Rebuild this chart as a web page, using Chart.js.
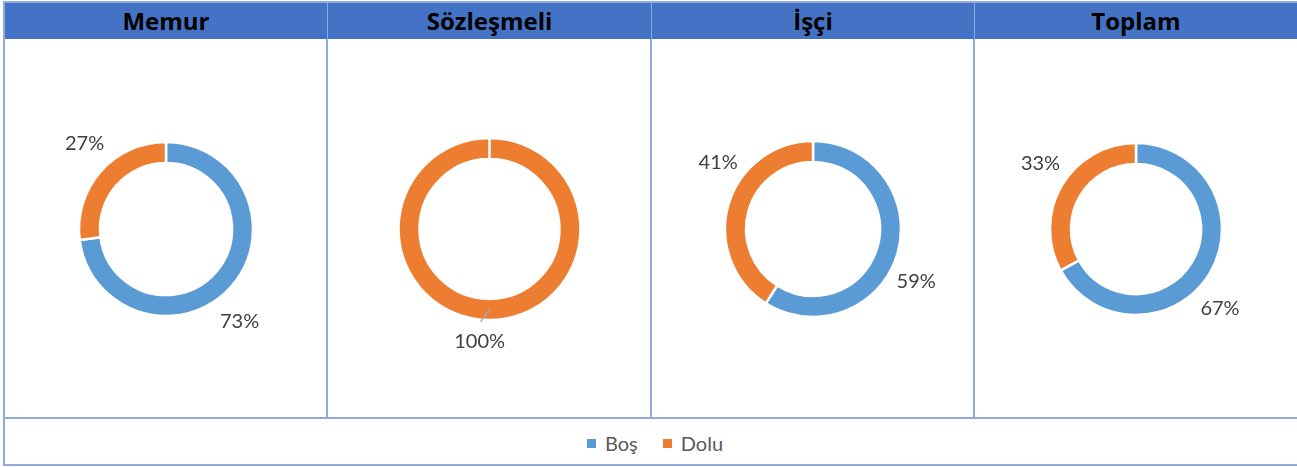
<!DOCTYPE html>
<html>
<head>
<meta charset="utf-8">
<script src="https://cdn.jsdelivr.net/npm/chart.js@4/dist/chart.umd.min.js"></script>
<style>
  body { margin: 0; background: #fff; font-family: Lato, "Open Sans", sans-serif; }
  #wrap { position: relative; width: 1297px; height: 467px; overflow: hidden; }
  .hline, .vline { position: absolute; background: #8FAADC; }
  .head { position: absolute; top: 3px; height: 36px; background: #4472C4; color: #000;
          font-family: "Open Sans", sans-serif; font-weight: bold; font-size: 24px; line-height: 36px; text-align: center; }
  canvas { position: absolute; top: 41px; }
  #legend { position: absolute; top: 431px; left: 587px; height: 24px; display: flex; align-items: center;
            font-size: 20px; color: #595959; }
  #legend .sw { width: 9px; height: 9px; margin-right: 9px; }
</style>
</head>
<body>
<div id="wrap"></div>
<script>
// data
const panels = ['Memur', 'Sözleşmeli', 'İşçi', 'Toplam'];
const categories = ['Boş', 'Dolu'];
const bosValues = [73, 0, 59, 67];
const doluValues = [27, 100, 41, 33];

// style
const colors = ['#5B9BD5', '#ED7D31'];
const edges = [4, 327, 651, 974, 1297];
const radii = [87, 91, 88, 86];
const labelDist = [31, 22, 28, 30];
const labelTurn = [[10, 5], [0, 5], [11, 19], [13, 4]];

const wrap = document.getElementById('wrap');
function box(cls, l, t, w, h) {
  const d = document.createElement('div');
  d.className = cls;
  Object.assign(d.style, { left: l + 'px', top: t + 'px', width: w + 'px', height: h + 'px' });
  wrap.appendChild(d);
  return d;
}

// frame lines
box('hline', 4, 1, 1293, 2);
box('hline', 4, 417, 1293, 2);
box('hline', 4, 464, 1293, 2);
box('vline', 3, 1, 2, 465);
for (let i = 1; i < 4; i++) box('vline', edges[i] - 1, 1, 2, 418);

const outLabels = {
  id: 'outLabels',
  afterDatasetsDraw(chart, args, opts) {
    const ctx = chart.ctx;
    const ds = chart.data.datasets[0];
    const total = ds.data.reduce((a, b) => a + b, 0);
    chart.getDatasetMeta(0).data.forEach((arc, j) => {
      const v = ds.data[j];
      if (!v) return;
      const p = arc.getProps(['x', 'y', 'startAngle', 'endAngle', 'outerRadius', 'innerRadius'], true);
      const mid = (p.startAngle + p.endAngle) / 2 + opts.turn[j] * Math.PI / 180;
      const r = p.outerRadius + opts.dist;
      const lx = p.x + Math.cos(mid) * r;
      const ly = p.y + Math.sin(mid) * r;
      if (opts.leader) {
        const a = (p.startAngle + p.endAngle) / 2;
        const rm = (p.outerRadius + p.innerRadius) / 2;
        ctx.save();
        ctx.strokeStyle = '#A6A6A6';
        ctx.lineWidth = 1.5;
        ctx.beginPath();
        ctx.moveTo(p.x + Math.cos(a) * rm, p.y + Math.sin(a) * rm);
        ctx.lineTo(lx + 1, ly - 20);
        ctx.stroke();
        ctx.restore();
      }
      ctx.save();
      ctx.font = '20px Lato, "Open Sans", sans-serif';
      ctx.fillStyle = '#404040';
      ctx.textAlign = 'center';
      ctx.textBaseline = 'middle';
      ctx.fillText(Math.round(v / total * 100) + '%', lx, ly);
      ctx.restore();
    });
  }
};

panels.forEach((name, i) => {
  const left = edges[i] + 1;
  const w = edges[i + 1] - edges[i] - 1;
  const h = box('head', left, 3, w, 36);
  h.textContent = name;

  const c = document.createElement('canvas');
  c.width = w; c.height = 376;
  c.style.left = left + 'px';
  wrap.appendChild(c);

  new Chart(c, {
    type: 'doughnut',
    data: {
      labels: categories,
      datasets: [{
        data: [bosValues[i], doluValues[i]],
        backgroundColor: colors,
        borderColor: '#fff',
        borderWidth: 2.5,
        radius: radii[i],
        cutout: ((radii[i] - 21) / radii[i] * 100).toFixed(1) + '%'
      }]
    },
    options: {
      responsive: false,
      animation: false,
      events: [],
      plugins: {
        legend: { display: false },
        tooltip: { enabled: false },
        outLabels: { dist: labelDist[i], turn: labelTurn[i], leader: i === 1 }
      }
    },
    plugins: [outLabels]
  });
});

// legend
const lg = document.createElement('div');
lg.id = 'legend';
categories.forEach((c, j) => {
  const sw = document.createElement('span');
  sw.className = 'sw';
  sw.style.background = colors[j];
  const t = document.createElement('span');
  t.textContent = c;
  t.style.marginRight = j === 0 ? '25px' : '0';
  lg.appendChild(sw);
  lg.appendChild(t);
});
wrap.appendChild(lg);
</script>
</body>
</html>
